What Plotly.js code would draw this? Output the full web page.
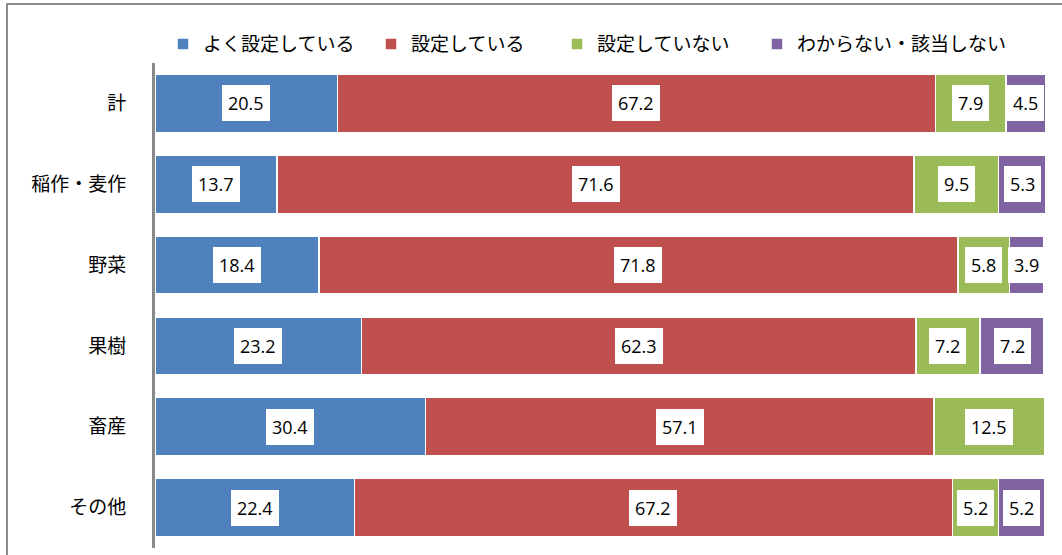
<!DOCTYPE html>
<html>
<head>
<meta charset="utf-8">
<script src="https://cdn.plot.ly/plotly-3.0.1.min.js"></script>
<style>
html,body{margin:0;padding:0;background:#fff;}
#frame{position:absolute;left:6px;top:3px;width:1100px;height:600px;border-left:2px solid #8c8c8c;border-top:2px solid #8c8c8c;pointer-events:none;z-index:5;}
#chart{position:absolute;left:0;top:0;width:1062px;height:555px;}
</style>
</head>
<body>
<div id="chart"></div>
<div id="frame"></div>
<script>
const categories = ['計', '稲作・麦作', '野菜', '果樹', '畜産', 'その他'];
const seriesNames = ['よく設定している', '設定している', '設定していない', 'わからない・該当しない'];
const yokuSettei = [20.5, 13.7, 18.4, 23.2, 30.4, 22.4];
const settei = [67.2, 71.6, 71.8, 62.3, 57.1, 67.2];
const setteiNai = [7.9, 9.5, 5.8, 7.2, 12.5, 5.2];
const wakaranai = [4.5, 5.3, 3.9, 7.2, 0, 5.2];
const colors = ['#4F81BD', '#C0504D', '#9BBB59', '#8064A2'];

const series = [yokuSettei, settei, setteiNai, wakaranai];
const jp = '"Noto Sans CJK JP", "Noto Sans", sans-serif';
const legendIds = ['legend', 'legend2', 'legend3', 'legend4'];
const legendX = [0.009, 0.2427, 0.4517, 0.6764];

const traces = series.map((vals, i) => ({
  type: 'bar',
  orientation: 'h',
  name: seriesNames[i],
  legend: legendIds[i],
  x: vals,
  y: categories,
  marker: {color: colors[i], line: {color: '#ffffff', width: 1.5}},
  hoverinfo: 'skip'
}));

const annotations = [];
categories.forEach((cat, ci) => {
  let cum = 0;
  series.forEach((vals) => {
    const v = vals[ci];
    if (v > 0) {
      annotations.push({
        x: cum + v / 2, y: cat, xref: 'x', yref: 'y',
        text: v.toFixed(1), showarrow: false,
        font: {family: '"Open Sans", "Liberation Sans", sans-serif', size: 18, color: '#000'},
        bgcolor: '#ffffff', borderpad: 6, borderwidth: 0
      });
    }
    cum += v;
  });
});

const layout = {
  width: 1062, height: 555,
  margin: {l: 155, r: 17, t: 63, b: 7},
  barmode: 'stack',
  bargap: 0.28,
  paper_bgcolor: '#ffffff', plot_bgcolor: '#ffffff',
  showlegend: true,
  xaxis: {range: [0, 100], visible: false, fixedrange: true},
  yaxis: {
    type: 'category', autorange: 'reversed',
    showline: true, linecolor: '#898989', linewidth: 3,
    showgrid: false, zeroline: false,
    ticks: 'outside', ticklen: 22, tickcolor: 'rgba(0,0,0,0)',
    tickfont: {family: jp, size: 19, color: '#000'}
  },
  annotations: annotations
};
legendIds.forEach((id, i) => {
  layout[id] = {
    orientation: 'h',
    x: legendX[i], xanchor: 'left', y: 1.039, yanchor: 'middle',
    font: {family: jp, size: 19, color: '#000'},
    bgcolor: 'rgba(0,0,0,0)',
    itemclick: false, itemdoubleclick: false
  };
});

Plotly.newPlot('chart', traces, layout, {displayModeBar: false, staticPlot: true});
</script>
</body>
</html>
